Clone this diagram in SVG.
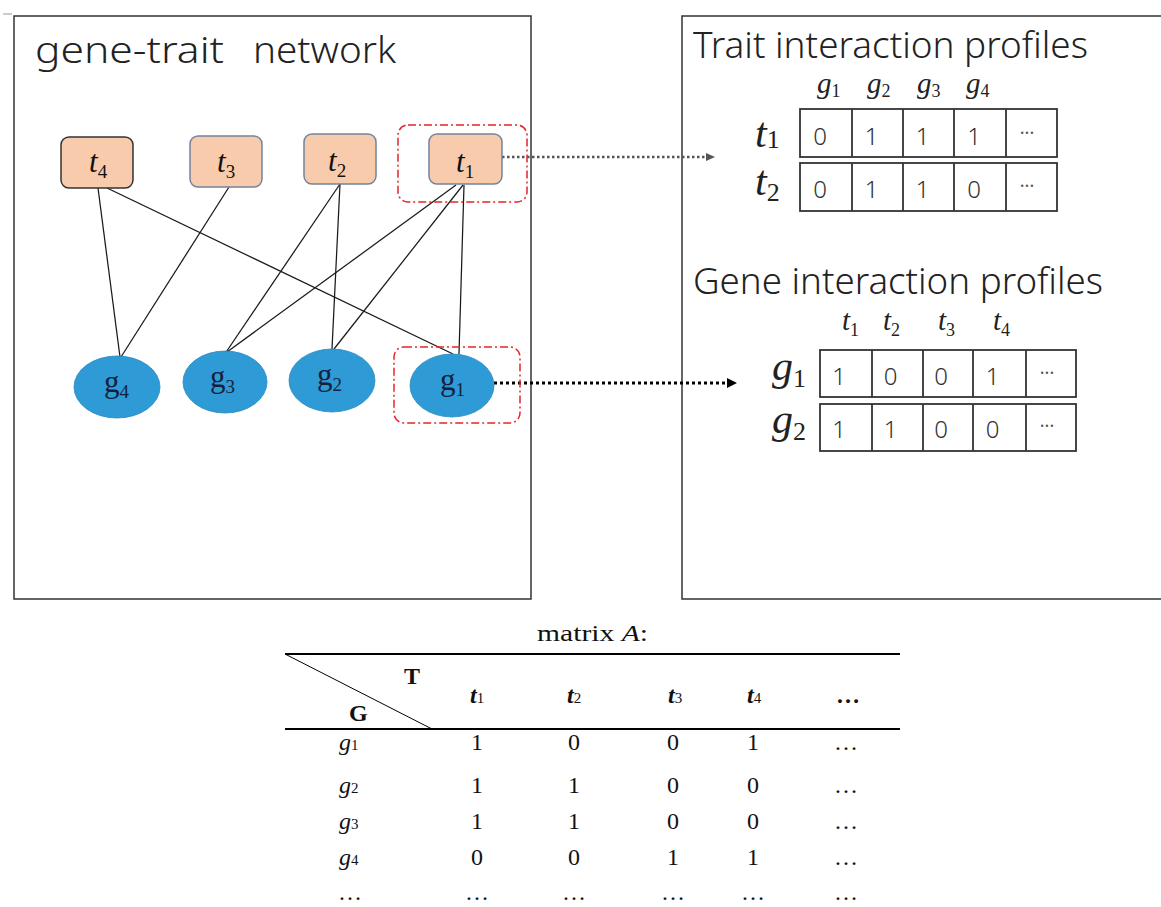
<svg xmlns="http://www.w3.org/2000/svg" width="1161" height="907" viewBox="0 0 1161 907">
<style>
.panel{fill:none;stroke:#333;stroke-width:1.5}
.title{font-family:"Noto Sans","Liberation Sans",sans-serif;font-size:36px;fill:#222;font-weight:300}
.trait rect{fill:#f9cbad;stroke:#71859c;stroke-width:1.5}
.gene ellipse{fill:#2e9bd6;stroke:#2a88c0;stroke-width:0.8}
.tl{font-family:"Liberation Serif",serif;font-size:31px;font-style:italic;fill:#111}
.gl{font-family:"Liberation Serif",serif;font-size:31px;fill:#14213d}
.sub{font-style:normal;font-size:19px}
.sel{fill:none;stroke:#e3262b;stroke-width:1.5;stroke-dasharray:8 3 2 3}
.edge{stroke:#1a1a1a;stroke-width:1.25}
.cell{fill:none;stroke:#333;stroke-width:1.8}
.num{font-family:"Noto Sans","Liberation Sans",sans-serif;font-size:24px;fill:#333;text-anchor:middle;font-weight:300}
.dots{font-family:"Noto Sans","Liberation Sans",sans-serif;font-size:18px;fill:#555;text-anchor:middle}
.math{font-family:"Liberation Serif",serif;font-style:italic;fill:#222}
.msub{font-style:normal}
.mx{font-family:"Liberation Serif",serif;font-size:24px;fill:#111}
.mxc{font-family:"Liberation Serif",serif;font-size:24px;fill:#111;text-anchor:middle}
</style>
<defs>
<marker id="ahg" markerUnits="userSpaceOnUse" markerWidth="9" markerHeight="8" refX="0" refY="4" orient="auto"><path d="M0,0 L9,4 L0,8z" fill="#555"/></marker>
<marker id="ahb" markerUnits="userSpaceOnUse" markerWidth="10" markerHeight="10" refX="0" refY="5" orient="auto"><path d="M0,0 L10,5 L0,10z" fill="#000"/></marker>
</defs>
<rect width="1161" height="907" fill="#fff"/>
<line x1="3" y1="14" x2="12" y2="14" stroke="#bbb" stroke-width="1.5"/>

<g id="left-panel">
<rect class="panel" x="14" y="16" width="517" height="583"/>
<text class="title" x="35" y="63" font-size="38" textLength="189" lengthAdjust="spacingAndGlyphs">gene-trait</text>
<text class="title" x="253" y="63" font-size="38" textLength="143" lengthAdjust="spacingAndGlyphs">network</text>
</g>

<g id="right-panel">
<path class="panel" d="M1161,16 H682 V599 H1161"/>
<text class="title" x="693" y="58" textLength="395" lengthAdjust="spacingAndGlyphs">Trait interaction profiles</text>
<text class="title" x="693" y="294" textLength="410" lengthAdjust="spacingAndGlyphs">Gene interaction profiles</text>
</g>

<g id="connectors">
<line class="edge" x1="98" y1="188" x2="120" y2="357"/>
<line class="edge" x1="107" y1="188" x2="453" y2="354"/>
<line class="edge" x1="229" y1="187" x2="121" y2="357"/>
<line class="edge" x1="340" y1="184" x2="225.5" y2="353"/>
<line class="edge" x1="340" y1="184" x2="332" y2="349"/>
<line class="edge" x1="456" y1="185" x2="227" y2="352"/>
<line class="edge" x1="463" y1="185" x2="334" y2="349"/>
<line class="edge" x1="464" y1="185" x2="459" y2="354"/>
<line x1="502" y1="157" x2="706" y2="157" stroke="#555" stroke-width="2.5" stroke-dasharray="2.5 2.5" marker-end="url(#ahg)"/>
<line x1="494" y1="383" x2="727" y2="383" stroke="#000" stroke-width="3" stroke-dasharray="3 3" marker-end="url(#ahb)"/>
</g>

<g id="t4" class="trait"><rect x="61" y="137" width="72" height="51" rx="8" style="stroke:#333"/><text class="tl" x="89" y="172">t<tspan class="sub" dy="6">4</tspan></text></g>
<g id="t3" class="trait"><rect x="190" y="136" width="72" height="51" rx="8"/><text class="tl" x="217" y="172">t<tspan class="sub" dy="6">3</tspan></text></g>
<g id="t2" class="trait"><rect x="304" y="134" width="72" height="50" rx="8"/><text class="tl" x="328" y="171">t<tspan class="sub" dy="6">2</tspan></text></g>
<g id="t1" class="trait"><rect x="429" y="134" width="73" height="50" rx="8"/><text class="tl" x="456" y="172">t<tspan class="sub" dy="6">1</tspan></text></g>
<g id="t1-select"><rect class="sel" x="398" y="125" width="129" height="77" rx="10"/></g>

<g id="g4" class="gene"><ellipse cx="117" cy="387" rx="43" ry="31"/><text class="gl" x="104" y="392">g<tspan class="sub" dy="6">4</tspan></text></g>
<g id="g3" class="gene"><ellipse cx="225" cy="382" rx="42" ry="31"/><text class="gl" x="210" y="387">g<tspan class="sub" dy="6">3</tspan></text></g>
<g id="g2" class="gene"><ellipse cx="332" cy="380.5" rx="43" ry="31.5"/><text class="gl" x="317" y="385">g<tspan class="sub" dy="6">2</tspan></text></g>
<g id="g1" class="gene"><ellipse cx="452" cy="385.5" rx="42" ry="31.5"/><text class="gl" x="440" y="390">g<tspan class="sub" dy="6">1</tspan></text></g>
<g id="g1-select"><rect class="sel" x="394" y="347" width="126" height="76" rx="10"/></g>

<g id="trait-profiles">
<text class="math" x="817" y="93" font-size="29">g<tspan class="msub" font-size="18" dy="4">1</tspan></text>
<text class="math" x="867" y="93" font-size="29">g<tspan class="msub" font-size="18" dy="4">2</tspan></text>
<text class="math" x="917" y="93" font-size="29">g<tspan class="msub" font-size="18" dy="4">3</tspan></text>
<text class="math" x="966" y="93" font-size="29">g<tspan class="msub" font-size="18" dy="4">4</tspan></text>
<text class="math" x="755" y="147" font-size="42">t<tspan class="msub" font-size="26" dy="1">1</tspan></text>
<text class="math" x="755" y="195" font-size="42">t<tspan class="msub" font-size="26" dy="6">2</tspan></text>
<rect class="cell" x="800" y="109" width="257" height="48"/>
<path class="cell" d="M852,109V157M903,109V157M954,109V157M1006,109V157"/>
<rect class="cell" x="800" y="163" width="257" height="48"/>
<path class="cell" d="M852,163V211M903,163V211M954,163V211M1006,163V211"/>
<text class="num" x="820" y="145">0</text><text class="num" x="871.5" y="145">1</text><text class="num" x="922.5" y="145">1</text><text class="num" x="974" y="145">1</text><text class="dots" x="1027" y="139">···</text>
<text class="num" x="820" y="198">0</text><text class="num" x="871.5" y="198">1</text><text class="num" x="922.5" y="198">1</text><text class="num" x="974" y="198">0</text><text class="dots" x="1027" y="192">···</text>
</g>

<g id="gene-profiles">
<text class="math" x="842" y="330" font-size="29">t<tspan class="msub" font-size="18" dy="6">1</tspan></text>
<text class="math" x="883" y="330" font-size="29">t<tspan class="msub" font-size="18" dy="6">2</tspan></text>
<text class="math" x="938" y="330" font-size="29">t<tspan class="msub" font-size="18" dy="6">3</tspan></text>
<text class="math" x="993" y="330" font-size="29">t<tspan class="msub" font-size="18" dy="6">4</tspan></text>
<text class="math" x="772" y="380" font-size="42">g<tspan class="msub" font-size="26" dy="7">1</tspan></text>
<text class="math" x="772" y="433" font-size="42">g<tspan class="msub" font-size="26" dy="7">2</tspan></text>
<rect class="cell" x="820" y="350" width="256" height="47"/>
<path class="cell" d="M872,350V397M923,350V397M973,350V397M1026,350V397"/>
<rect class="cell" x="820" y="404" width="256" height="47"/>
<path class="cell" d="M872,404V451M923,404V451M973,404V451M1026,404V451"/>
<text class="num" x="839" y="385">1</text><text class="num" x="890.5" y="385">0</text><text class="num" x="941" y="385">0</text><text class="num" x="992.5" y="385">1</text><text class="dots" x="1047" y="379">···</text>
<text class="num" x="839" y="438">1</text><text class="num" x="890.5" y="438">1</text><text class="num" x="941" y="438">0</text><text class="num" x="992.5" y="438">0</text><text class="dots" x="1047" y="432">···</text>
</g>

<g id="matrix-A">
<text class="mx" x="537" y="641" font-size="26" textLength="111" lengthAdjust="spacingAndGlyphs">matrix <tspan font-style="italic">A</tspan>:</text>
<line x1="285" y1="654" x2="900" y2="654" stroke="#000" stroke-width="2.2"/>
<line x1="285" y1="729" x2="900" y2="729" stroke="#000" stroke-width="2.2"/>
<line x1="285" y1="654" x2="432" y2="729" stroke="#000" stroke-width="1"/>
<text class="mx" x="404" y="684" font-weight="bold" font-size="24">T</text>
<text class="mx" x="349" y="721" font-weight="bold" font-size="24">G</text>
<text class="mx" x="470" y="703" font-weight="bold" font-style="italic">t<tspan font-size="15" font-style="normal" font-weight="normal">1</tspan></text>
<text class="mx" x="567" y="703" font-weight="bold" font-style="italic">t<tspan font-size="15" font-style="normal" font-weight="normal">2</tspan></text>
<text class="mx" x="668" y="703" font-weight="bold" font-style="italic">t<tspan font-size="15" font-style="normal" font-weight="normal">3</tspan></text>
<text class="mx" x="747" y="703" font-weight="bold" font-style="italic">t<tspan font-size="15" font-style="normal" font-weight="normal">4</tspan></text>
<text class="mxc" x="848" y="703" font-weight="bold">…</text>

<text class="mx" x="339" y="750" font-style="italic">g<tspan font-size="15" font-style="normal">1</tspan></text>
<text class="mxc" x="477" y="750">1</text><text class="mxc" x="574" y="750">0</text><text class="mxc" x="673" y="750">0</text><text class="mxc" x="753" y="750">1</text><text class="mxc" x="846" y="750">…</text>
<text class="mx" x="339" y="793" font-style="italic">g<tspan font-size="15" font-style="normal">2</tspan></text>
<text class="mxc" x="477" y="793">1</text><text class="mxc" x="574" y="793">1</text><text class="mxc" x="673" y="793">0</text><text class="mxc" x="753" y="793">0</text><text class="mxc" x="846" y="793">…</text>
<text class="mx" x="339" y="829" font-style="italic">g<tspan font-size="15" font-style="normal">3</tspan></text>
<text class="mxc" x="477" y="829">1</text><text class="mxc" x="574" y="829">1</text><text class="mxc" x="673" y="829">0</text><text class="mxc" x="753" y="829">0</text><text class="mxc" x="846" y="829">…</text>
<text class="mx" x="339" y="865" font-style="italic">g<tspan font-size="15" font-style="normal">4</tspan></text>
<text class="mxc" x="477" y="865">0</text><text class="mxc" x="574" y="865">0</text><text class="mxc" x="673" y="865">1</text><text class="mxc" x="753" y="865">1</text><text class="mxc" x="846" y="865">…</text>
<text class="mxc" x="350" y="900">…</text><text class="mxc" x="477" y="900">…</text><text class="mxc" x="574" y="900">…</text><text class="mxc" x="673" y="900">…</text><text class="mxc" x="753" y="900">…</text><text class="mxc" x="846" y="900">…</text>
</g>
</svg>
